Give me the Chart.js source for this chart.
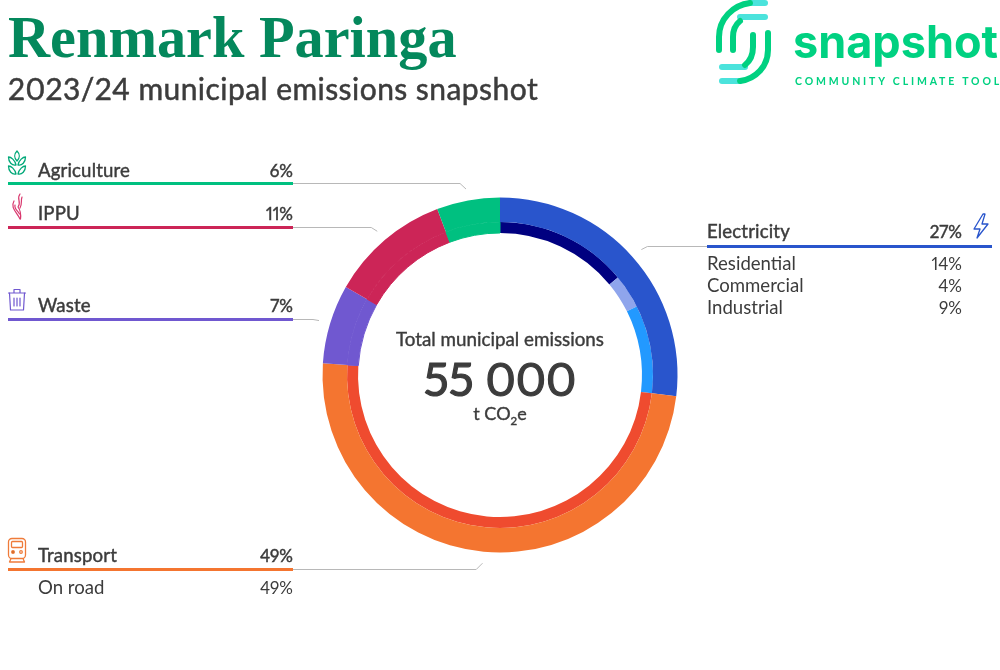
<!DOCTYPE html>
<html>
<head>
<meta charset="utf-8">
<title>Renmark Paringa emissions snapshot</title>
<script src="https://cdn.jsdelivr.net/npm/chart.js@4/dist/chart.umd.min.js"></script>
<style>
  html, body { margin: 0; padding: 0; background: #fff; }
  #page { position: relative; width: 1000px; height: 670px; overflow: hidden; font-family: Lato, sans-serif; color: #3c3c3c; font-variant-numeric: proportional-nums; }
  #chart { position: absolute; left: 0; top: 0; }
  .t { position: absolute; white-space: nowrap; line-height: 1; }
  .r { transform: translateX(-100%); }
  .c { transform: translateX(-50%); }
  .bar { position: absolute; height: 3px; }
  svg { position: absolute; left: 0; top: 0; }
  sub { font-size: 0.65em; line-height: 0; }
</style>
</head>
<body>
<div id="page">
  <canvas id="chart" width="1000" height="670"></canvas>
  <svg width="1000" height="670" fill="none" stroke-linecap="round" stroke-linejoin="round">
    <!-- logo -->
    <g stroke-width="6" stroke="#4be3dc">
      <path d="M750 3H765"/>
      <path d="M740 17H765"/>
      <path d="M722 67H745"/>
      <path d="M722 81H740"/>
    </g>
    <g stroke-width="6" stroke="#00d181">
      <path d="M719 50V37C719 19 733 5 750 3"/>
      <path d="M733 50V37C733 30 735 25 740 21"/>
      <path d="M753 35V47C753 55 750 61 745 65"/>
      <path d="M768 33V50C768 66 756 79 740 81"/>
    </g>
    <!-- agriculture -->
    <g stroke="#00a878" stroke-width="1.3">
      <path d="M17 151C14 154 14 158 17 161C20 158 20 154 17 151Z"/>
      <path d="M16 165C15 160 11 157 8.500 157C8.500 162 12 166 16 165Z"/>
      <path d="M18 165C19 160 23 157 25.500 157C25.500 162 22 166 18 165Z"/>
      <path d="M16 174C15 169 11 166 8.500 166C8.500 171 12 175 16 174Z"/>
      <path d="M18 174C19 169 23 166 25.500 166C25.500 171 22 175 18 174Z"/>
    </g>
    <!-- ippu -->
    <g stroke="#d9386e" stroke-width="1.2">
      <path d="M20 194C16 199 22 202 18 207C21 211 21 215 20.500 219"/>
      <path d="M22 197C20.500 201 22.500 204 20 208"/>
      <path d="M14 201C10 208 17 212 20 219"/>
      <path d="M15 205C14 209 18 211 19.500 214"/>
    </g>
    <!-- waste -->
    <g stroke="#7058d0" stroke-width="1.2">
      <path d="M8.500 293H25.500M14 293V289.500H20V293"/>
      <path d="M9.500 293L10.500 310H23.500L24.500 293"/>
      <path d="M14 298V306M17 298V306M20 298V306"/>
    </g>
    <!-- transport -->
    <g stroke="#ef7b3a" stroke-width="1.3">
      <rect x="8.500" y="538.500" width="17" height="20" rx="3.500"/>
      <rect x="11.500" y="541.500" width="11" height="6" rx="1"/>
      <path d="M11 558.500L9.500 562H24.500L23 558.500"/>
      <circle cx="13" cy="552" r="1.300" fill="#a85a20"/>
      <circle cx="21" cy="552" r="1.300"/>
    </g>
    <!-- electricity -->
    <path d="M983 214L974 229H980L977 238L988 224H982L985 214Z" stroke="#2955cc" stroke-width="1.300"/>
  </svg>
</div>
<script>
const sectorLabels = ['Electricity', 'Transport', 'Waste', 'IPPU', 'Agriculture'];
const sectorValues = [26.9, 49.15, 7.2, 11, 5.75];
const sectorColors = ['#2955cc', '#f47530', '#7058d0', '#cc2557', '#00c080'];

const subLabels = ['Residential', 'Commercial', 'Industrial', 'On road', 'Waste', 'IPPU', 'Agriculture'];
const subValues = [14, 3.6, 9.3, 49.15, 7.2, 11, 5.75];
const subColors = ['#000080', '#8fa5ec', '#2299ff', '#ef4b2f', '#7058d0', '#cc2557', '#00c080'];

const page = document.getElementById('page');

// where each sector's legend row goes
const rows = {
  Agriculture: { x: 8, w: 285, textX: 38, pctX: 293, barY: 182, base: 177 },
  IPPU: { x: 8, w: 285, textX: 38, pctX: 293, barY: 226, base: 220 },
  Waste: { x: 8, w: 285, textX: 38, pctX: 293, barY: 318, base: 312 },
  Transport: { x: 8, w: 285, textX: 38, pctX: 293, barY: 568, base: 562 },
  Electricity: { x: 707, w: 285, textX: 707, pctX: 962, barY: 245, base: 238 },
};
const subRows = {
  Residential: { textX: 707, pctX: 962, base: 270 },
  Commercial: { textX: 707, pctX: 962, base: 292 },
  Industrial: { textX: 707, pctX: 962, base: 314 },
  'On road': { textX: 38, pctX: 293, base: 594 },
};

function addText(str, x, baseline, size, opts) {
  const o = opts || {};
  const el = document.createElement('div');
  el.className = 't' + (o.cls ? ' ' + o.cls : '');
  el.innerHTML = str;
  el.style.left = x + 'px';
  el.style.top = (baseline - size * (o.asc || 0.86)) + 'px';
  el.style.fontSize = size + 'px';
  if (o.weight) el.style.fontWeight = o.weight;
  if (o.color) el.style.color = o.color;
  if (o.font) el.style.fontFamily = o.font;
  if (o.spacing) el.style.letterSpacing = o.spacing;
  // Lato has no medium weight here, so thicken the regular one a little
  if (o.stroke) el.style.webkitTextStroke = o.stroke + 'px currentColor';
  page.appendChild(el);
}

addText('Renmark Paringa', 8, 61, 58.3, { font: '"Liberation Serif", serif', weight: 700, color: '#04885c', asc: 0.89 });
addText('2023/24 municipal emissions snapshot', 8, 99, 30, { stroke: 0.5, spacing: '0.44px' });
addText('snapshot', 793, 59, 45, { font: 'Inter, sans-serif', weight: 700, color: '#00d181', asc: 0.9 });
addText('COMMUNITY CLIMATE TOOL', 795, 85, 10.5, { weight: 700, color: '#00d181', spacing: '2.85px' });

sectorLabels.forEach((name, i) => {
  const row = rows[name];
  const bar = document.createElement('div');
  bar.className = 'bar';
  bar.style.cssText = `left:${row.x}px;top:${row.barY}px;width:${row.w}px;background:${sectorColors[i]}`;
  page.appendChild(bar);
  addText(name, row.textX, row.base, 18.6, { stroke: 0.45, spacing: '0.15px' });
  addText(Math.round(sectorValues[i]) + '%', row.pctX, row.base, 17, { cls: 'r', stroke: 0.45 });
});
subLabels.forEach((name, i) => {
  const row = subRows[name];
  if (!row) return;
  addText(name, row.textX, row.base, 18.6);
  addText(Math.round(subValues[i]) + '%', row.pctX, row.base, 17, { cls: 'r' });
});

addText('Total municipal emissions', 500, 346, 18.8, { cls: 'c', stroke: 0.4 });
addText('55 000', 500, 396, 46, { cls: 'c', stroke: 1.2 });
addText('t CO<sub>2</sub>e', 500, 419, 18, { cls: 'c', stroke: 0.4 });

// thin grey line from each legend bar to the middle of its arc
const leaderLines = {
  id: 'leaderLines',
  afterDatasetsDraw(chart) {
    const ctx = chart.ctx;
    const arcs = chart.getDatasetMeta(0).data;
    ctx.save();
    ctx.strokeStyle = '#b8b8b8';
    ctx.lineWidth = 1;
    arcs.forEach((arc, i) => {
      const row = rows[sectorLabels[i]];
      const mid = (arc.startAngle + arc.endAngle) / 2;
      const ex = arc.x + Math.cos(mid) * (arc.outerRadius + 11.5);
      const ey = arc.y + Math.sin(mid) * (arc.outerRadius + 11.5);
      const ly = row.barY + 1.5;
      const left = row.x < 500;
      const dx = Math.max(Math.abs(ey - ly), 6);
      ctx.beginPath();
      ctx.moveTo(left ? row.x + row.w : row.x, ly);
      ctx.lineTo(left ? ex - dx : ex + dx, ly);
      ctx.lineTo(ex, ey);
      ctx.stroke();
    });
    ctx.restore();
  },
};

new Chart(document.getElementById('chart'), {
  type: 'doughnut',
  data: {
    labels: sectorLabels,
    datasets: [
      { data: sectorValues, backgroundColor: sectorColors, borderWidth: 0, weight: 24.5 },
      {
        data: subValues,
        backgroundColor: subColors,
        // same colour border on the last three hides the seam with the outer ring
        borderColor: subColors,
        borderWidth: [0, 0, 0, 0, 1, 1, 1],
        weight: 11,
      },
    ],
  },
  options: {
    responsive: false,
    animation: false,
    radius: 177.5,
    cutout: '80%',
    layout: { padding: { top: 80 } },
    plugins: { legend: { display: false }, tooltip: { enabled: false } },
  },
  plugins: [leaderLines],
});
</script>
</body>
</html>
